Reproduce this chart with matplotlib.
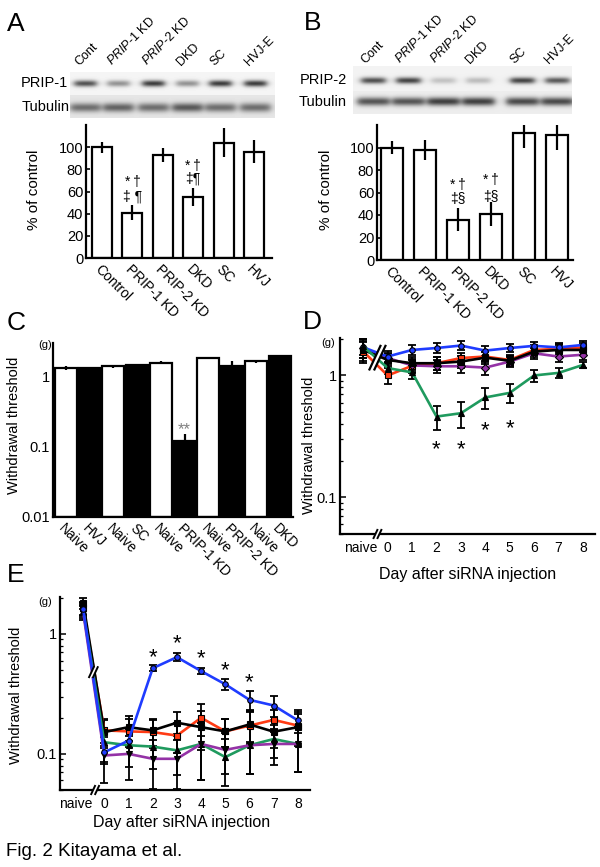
import numpy as np
import matplotlib
matplotlib.use("Agg")
import matplotlib.pyplot as plt
from matplotlib.lines import Line2D
from matplotlib.patches import Polygon
from matplotlib.transforms import IdentityTransform, ScaledTranslation

plt.rcParams["font.family"] = ["Liberation Sans", "DejaVu Sans"]
plt.rcParams["mathtext.fontset"] = "custom"
plt.rcParams["mathtext.rm"] = "Liberation Sans"
plt.rcParams["mathtext.it"] = "Liberation Sans:italic"

W, H = 600, 867

# ---- data -------------------------------------------------------------
blot_lanes = ["Cont", r"$\it{PRIP}$-$\it{1}$ KD", r"$\it{PRIP}$-$\it{2}$ KD", "DKD", "SC", "HVJ-E"]
blot_a_prip1 = [0.75, 0.45, 0.85, 0.45, 0.85, 0.85]
blot_a_tub = [0.55, 0.6, 0.55, 0.65, 0.55, 0.55]
blot_b_prip2 = [0.75, 0.8, 0.22, 0.25, 0.8, 0.7]
blot_b_tub = [0.7, 0.7, 0.8, 0.8, 0.75, 0.75]

groups_ab = ["Control", "PRIP-1 KD", "PRIP-2 KD", "DKD", "SC", "HVJ"]
prip1_pct = [100, 41, 93, 55, 104, 96]
prip1_err = [5, 7, 6.5, 8, 13, 10.5]
prip2_pct = [100, 98, 36, 41, 113, 111]
prip2_err = [5.5, 9, 10, 11, 13, 13]

c_groups = ["HVJ", "SC", "PRIP-1 KD", "PRIP-2 KD", "DKD"]
c_naive = [1.32, 1.39, 1.58, 1.83, 1.64]
c_naive_err = [0.08, 0.08, 0.08, 0.08, 0.08]
c_treat = [1.32, 1.47, 0.12, 1.42, 1.93]
c_treat_err = [0.05, 0.03, 0.03, 0.25, 0.0]

day_labels = ["naive", "0", "1", "2", "3", "4", "5", "6", "7", "8"]
d_blue = [1.70, 1.43, 1.62, 1.68, 1.76, 1.60, 1.68, 1.75, 1.70, 1.78]
d_red = [1.57, 1.00, 1.20, 1.26, 1.39, 1.43, 1.34, 1.62, 1.65, 1.70]
d_black = [1.62, 1.34, 1.26, 1.26, 1.30, 1.40, 1.32, 1.57, 1.62, 1.62]
d_purple = [1.68, 1.39, 1.21, 1.19, 1.19, 1.16, 1.30, 1.52, 1.43, 1.48]
d_green = [1.73, 1.15, 1.06, 0.46, 0.49, 0.66, 0.72, 1.00, 1.05, 1.22]
d_err = [0.3, 0.15, 0.15, 0.15, 0.15, 0.15, 0.12, 0.15, 0.15, 0.15]
d_green_err = [0.25, 0.12, 0.12, 0.10, 0.12, 0.13, 0.13, 0.11, 0.10, 0.06]
d_star_days = [2, 3, 4, 5]
d_star_y = [0.27, 0.27, 0.39, 0.40]

e_blue = [1.60, 0.103, 0.129, 0.517, 0.64, 0.49, 0.38, 0.282, 0.253, 0.19]
e_red = [1.65, 0.157, 0.154, 0.152, 0.142, 0.20, 0.154, 0.172, 0.192, 0.172]
e_black = [1.80, 0.152, 0.167, 0.157, 0.182, 0.167, 0.154, 0.176, 0.153, 0.167]
e_green = [1.55, 0.125, 0.118, 0.115, 0.107, 0.121, 0.094, 0.118, 0.133, 0.121]
e_purple = [1.50, 0.097, 0.100, 0.091, 0.091, 0.121, 0.108, 0.118, 0.121, 0.121]
e_blue_err = [0.2, 0.02, 0.03, 0.03, 0.05, 0.03, 0.04, 0.05, 0.05, 0.04]
e_err = [0.2, 0.04, 0.04, 0.04, 0.04, 0.06, 0.04, 0.05, 0.04, 0.05]
e_star_days = [2, 3, 4, 5, 6]
e_star_y = [0.70, 0.91, 0.68, 0.54, 0.43]

BLUE, RED, PURPLE, GREEN = "#1f3cff", "#ff3b14", "#9432a6", "#1f9a5e"


def rect(l, t, r, b):
    return [l / W, 1 - b / H, (r - l) / W, (b - t) / H]


def ftext(x, y, s, **kw):
    fig.text(x / W, 1 - y / H, s, **kw)


def style_axes(ax):
    for s in ("top", "right"):
        ax.spines[s].set_visible(False)
    for s in ("left", "bottom"):
        ax.spines[s].set_linewidth(1.6)


def draw_blot(l, t, r, b, lanes_x, rows, bgs):
    ax = fig.add_axes(rect(l, t, r, b))
    w, h = r - l, b - t
    img = np.zeros((h, w))
    yy = np.arange(h)[:, None]
    xx = np.arange(w)[None, :]
    split = (rows[0][0] + rows[1][0]) / 2 - t
    img[:] = np.where(yy < split, bgs[0], bgs[1])
    for cy, vals, hw, sig in rows:
        for cx, a in zip(lanes_x, vals):
            xprof = 1 / (1 + np.exp((np.abs(xx - (cx - l)) - hw) / 2.0))
            yprof = np.exp(-0.5 * ((yy - (cy - t)) / sig) ** 2)
            img -= 0.85 * a * xprof * yprof
    ax.imshow(img, cmap="gray", vmin=0, vmax=1, aspect="auto", interpolation="bilinear")
    ax.axis("off")


def bar_panel(l, t, r, b, x0, dx, vals, errs):
    ax = fig.add_axes(rect(l, t, r, b))
    x = np.arange(len(vals))
    ax.bar(x, vals, width=0.66, color="white", edgecolor="black", linewidth=1.6, zorder=2)
    ax.errorbar(x, vals, yerr=errs, fmt="none", ecolor="black", elinewidth=1.6, capsize=0, zorder=3)
    ax.set_ylim(0, 120)
    ax.set_xlim((l - x0) / dx, (r - x0) / dx)
    ax.set_yticks([0, 20, 40, 60, 80, 100])
    ax.tick_params(axis="y", direction="in", length=3, width=1.2, labelsize=10.5, pad=2)
    ax.set_xticks(x)
    ax.set_xticklabels(groups_ab, rotation=-45, ha="left", va="top", rotation_mode="anchor", fontsize=10)
    ax.tick_params(axis="x", length=0, pad=3)
    style_axes(ax)
    return ax


fig = plt.figure(figsize=(W / 100, H / 100), dpi=100)

# ---- A ----------------------------------------------------------------
ftext(7, 24, "A", fontsize=19, va="center")
lanes_a = [85, 118, 153, 187, 220, 255]
draw_blot(70, 72, 275, 118, lanes_a,
          [(83, blot_a_prip1, 11, 2.3), (107, blot_a_tub, 15, 3.2)], (0.96, 0.9))
for lx, lab in zip(lanes_a, blot_lanes):
    ftext(lx - 6, 66, lab, rotation=45, ha="left", va="baseline", rotation_mode="anchor", fontsize=9)
ftext(68, 83, "PRIP-1", ha="right", va="center", fontsize=10.5)
ftext(70, 107, "Tubulin", ha="right", va="center", fontsize=10.5)
ax_a = bar_panel(86, 125, 272, 258, 102, 30.4, prip1_pct, prip1_err)
ax_a.text(1, 62, "*\u2009\u2020", ha="center", va="bottom", fontsize=10)
ax_a.text(1, 49, "\u2021 \u00b6", ha="center", va="bottom", fontsize=10)
ax_a.text(3, 77, "*\u2009\u2020", ha="center", va="bottom", fontsize=10)
ax_a.text(3, 65, "\u2021\u00b6", ha="center", va="bottom", fontsize=10)
ftext(34, 190, "% of control", rotation=90, ha="center", va="center", fontsize=11)

# ---- B ----------------------------------------------------------------
ftext(304, 23, "B", fontsize=19, va="center")
lanes_b = [373, 408, 443, 478, 522, 557]
draw_blot(353, 66, 572, 114, lanes_b,
          [(80, blot_b_prip2, 12, 2.3), (101, blot_b_tub, 16, 3.0)], (0.95, 0.93))
for lx, lab in zip(lanes_b, blot_lanes):
    ftext(lx - 8, 64, lab, rotation=45, ha="left", va="baseline", rotation_mode="anchor", fontsize=9)
ftext(347, 80, "PRIP-2", ha="right", va="center", fontsize=10.5)
ftext(347, 102, "Tubulin", ha="right", va="center", fontsize=10.5)
ax_b = bar_panel(377, 125, 573, 260, 392, 33, prip2_pct, prip2_err)
ax_b.text(2, 60, "*\u2009\u2020", ha="center", va="bottom", fontsize=10)
ax_b.text(2, 48, "\u2021\u00a7", ha="center", va="bottom", fontsize=10)
ax_b.text(3, 65, "*\u2009\u2020", ha="center", va="bottom", fontsize=10)
ax_b.text(3, 50, "\u2021\u00a7", ha="center", va="bottom", fontsize=10)
ftext(326, 190, "% of control", rotation=90, ha="center", va="center", fontsize=11)

# ---- C ----------------------------------------------------------------
ftext(7, 323, "C", fontsize=19, va="center")
ax_c = fig.add_axes(rect(53, 343, 293, 517))
xc = np.arange(len(c_groups))
ax_c.set_yscale("log")
ax_c.bar(xc - 0.25, np.array(c_naive) - 0.01, bottom=0.01, width=0.46, color="white",
         edgecolor="black", linewidth=1.6, zorder=2)
ax_c.bar(xc + 0.25, np.array(c_treat) - 0.01, bottom=0.01, width=0.46, color="black",
         edgecolor="black", linewidth=1.6, zorder=2)
ax_c.errorbar(xc - 0.25, c_naive, yerr=c_naive_err, fmt="none", ecolor="black", elinewidth=1.6, zorder=3)
ax_c.errorbar(xc + 0.25, c_treat, yerr=c_treat_err, fmt="none", ecolor="black", elinewidth=1.6, zorder=3)
ax_c.set_ylim(0.01, 3.0)
ax_c.set_xlim(-0.52, 4.53)
ax_c.set_yticks([0.01, 0.1, 1])
ax_c.set_yticklabels(["0.01", "0.1", "1"])
ax_c.minorticks_off()
ax_c.tick_params(axis="y", direction="in", length=3, width=1.2, labelsize=10.5, pad=2)
c_pos = np.ravel(np.column_stack([xc - 0.25, xc + 0.25]))
c_labels = [lab for g in c_groups for lab in ("Naive", g)]
ax_c.set_xticks(c_pos)
ax_c.set_xticklabels(c_labels, rotation=-45, ha="left", va="top", rotation_mode="anchor", fontsize=10)
ax_c.tick_params(axis="x", length=0, pad=3)
style_axes(ax_c)
ax_c.text(2.25, 0.175, "**", ha="center", va="center", fontsize=12, color="#808080")
ftext(45, 345, "(g)", ha="center", va="center", fontsize=8)
ftext(14, 425, "Withdrawal threshold", rotation=90, ha="center", va="center", fontsize=10.5)


# ---- D and E time courses --------------------------------------------
def slash_pair(ax, xd, yd, length, gap, lw=1.4):
    px0, py0 = ax.transData.transform((xd, yd))
    ang = np.deg2rad(65)
    ux, uy = np.cos(ang) * length / 2, np.sin(ang) * length / 2
    poly = Polygon([(px0 - gap / 2 - ux, py0 - uy), (px0 - gap / 2 + ux, py0 + uy),
                    (px0 + gap / 2 + ux, py0 + uy), (px0 + gap / 2 - ux, py0 - uy)],
                   closed=True, facecolor="white", edgecolor="none",
                   transform=IdentityTransform(), zorder=10)
    fig.add_artist(poly)
    for s in (-1, 1):
        cx = px0 + s * gap / 2
        fig.add_artist(Line2D([cx - ux, cx + ux], [py0 - uy, py0 + uy], color="black", lw=lw,
                              transform=IdentityTransform(), zorder=11))


def time_panel(l, t, r, b, x_day0, dx, naive_x, naive_lab_x, series, stars_x, stars_y):
    ax = fig.add_axes(rect(l, t, r, b))
    ax.set_yscale("log")
    xs = np.array([naive_x] + list(range(9)), dtype=float)
    for vals, errs, color, marker, mfc in series:
        ax.errorbar(xs, vals, yerr=errs, fmt="none", ecolor="black", elinewidth=1.3,
                    capsize=3, capthick=1.3, zorder=2)
        ax.plot(xs, vals, color=color, lw=1.9, marker=marker, ms=4, mfc=mfc,
                mec="black", mew=0.8, zorder=3)
    # asterisk glyph sits high in its box, so nudge it down a few pixels
    star_tr = ax.transData + ScaledTranslation(0, -0.05, fig.dpi_scale_trans)
    for sx, sy in zip(stars_x, stars_y):
        ax.text(sx, sy, "*", ha="center", va="center", fontsize=16, transform=star_tr)
    ax.set_ylim(0.05, 2.03)
    ax.set_xlim((l - x_day0) / dx, (r - x_day0) / dx)
    ax.set_yticks([0.1, 1])
    ax.set_yticklabels(["0.1", "1"])
    ax.tick_params(axis="y", which="major", direction="in", length=4, width=1.1, labelsize=10.5, pad=2)
    ax.tick_params(axis="y", which="minor", direction="in", length=2, width=0.9)
    ax.yaxis.set_minor_formatter(plt.NullFormatter())
    ax.set_xticks([naive_lab_x] + list(range(9)))
    ax.set_xticklabels(day_labels, fontsize=10)
    ax.tick_params(axis="x", length=0, pad=5)
    style_axes(ax)
    return ax


d_series = [
    (d_red, d_err, RED, "s", RED),
    (d_purple, d_err, PURPLE, "D", PURPLE),
    (d_black, d_err, "black", "s", "black"),
    (d_blue, d_err, BLUE, "o", BLUE),
    (d_green, d_green_err, GREEN, "^", "black"),
]
ftext(303, 322, "D", fontsize=19, va="center")
ax_d = time_panel(340, 338, 595, 534, 387.7, 24.4, -1.0, -1.1, d_series, d_star_days, d_star_y)
slash_pair(ax_d, -0.42, 1.4, 26, 5, lw=1.6)
slash_pair(ax_d, -0.42, 0.05, 9, 4)
ftext(328, 343, "(g)", ha="center", va="center", fontsize=8)
ftext(309, 445, "Withdrawal threshold", rotation=90, ha="center", va="center", fontsize=10.5)
ftext(468, 575, "Day after siRNA injection", ha="center", va="center", fontsize=11.5)

e_series = [
    (e_red, e_err, RED, "s", RED),
    (e_black, e_err, "black", "s", "black"),
    (e_green, e_err, GREEN, "^", "black"),
    (e_purple, e_err, PURPLE, "v", "black"),
    (e_blue, e_blue_err, BLUE, "o", BLUE),
]
ftext(7, 575, "E", fontsize=19, va="center")
ax_e = time_panel(60, 597, 310, 790, 104.3, 24.2, -0.87, -1.17, e_series, e_star_days, e_star_y)
slash_pair(ax_e, -0.45, 0.48, 11, 4)
slash_pair(ax_e, -0.38, 0.05, 9, 4)
ftext(45, 602, "(g)", ha="center", va="center", fontsize=8)
ftext(16, 695, "Withdrawal threshold", rotation=90, ha="center", va="center", fontsize=10.5)
ftext(182, 822, "Day after siRNA injection", ha="center", va="center", fontsize=11.5)

ftext(6, 852, "Fig. 2 Kitayama et al.", ha="left", va="center", fontsize=13.5)

fig.savefig("out.png", dpi=100)
